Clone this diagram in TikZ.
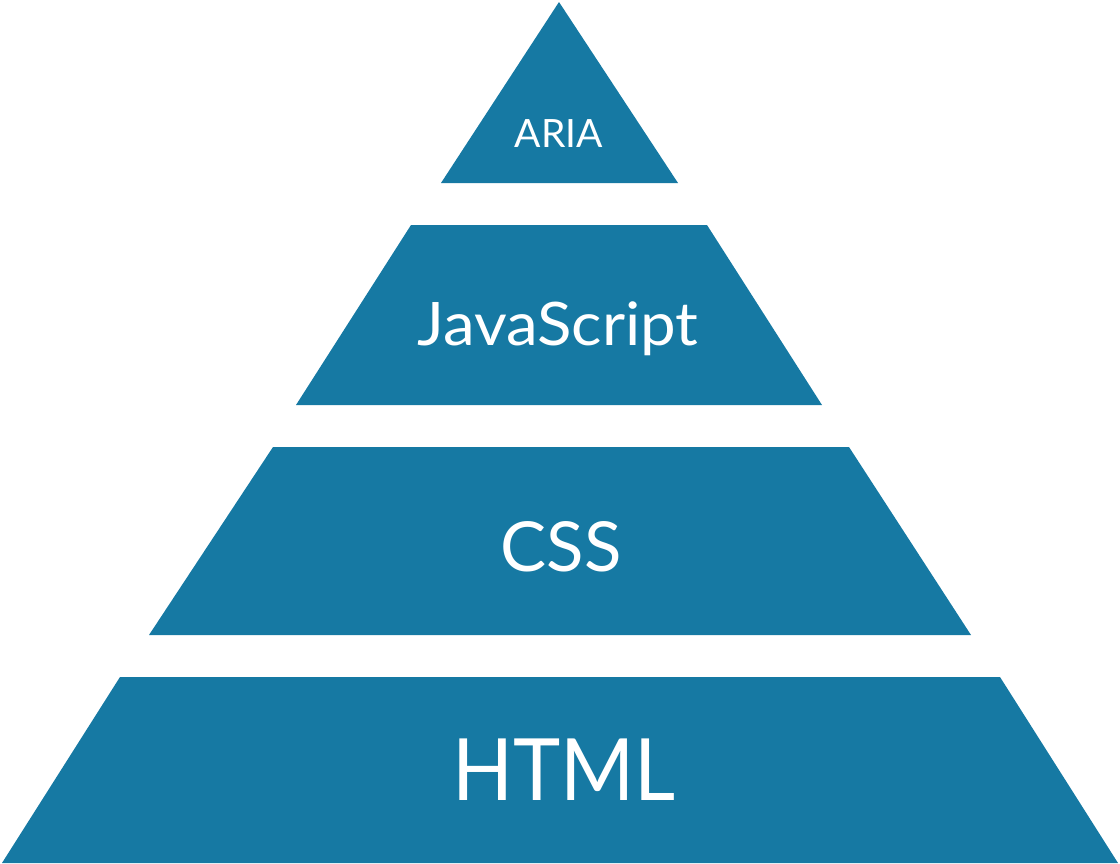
\documentclass[tikz,border=0pt]{standalone}
\usepackage{fontspec}
\setmainfont{Lato}
\definecolor{layerblue}{HTML}{1679A3}
\tikzset{layer/.style={fill=layerblue},
    lbl/.style={text=white,inner sep=0pt}}
\begin{document}
\begin{tikzpicture}[x=1pt,y=-1pt]
        \useasboundingbox (0,0) rectangle (1120,863);
        \fill[layer] (559,2) -- (678,183) -- (441,183) --cycle;
        \fill[layer] (411,225) -- (707,225) -- (822,405) -- (296,405) --cycle;
        \fill[layer] (273,447) -- (849,447) -- (971,635) -- (149,635) --cycle;
        \fill[layer] (120,677) -- (1000,677) -- (1118,863) -- (2,863) --cycle;
        \node[lbl] (aria) at (559,134) {\fontsize{39}{39}\selectfont ARIA};
        \node[lbl,xscale=1.06] (js) at (558,329) {\fontsize{60}{60}\selectfont JavaScript};
        \node[lbl] (css) at (561,547) {\fontsize{69}{69}\selectfont CSS};
        \node[lbl,xscale=0.93] (html) at (564,770) {\fontsize{86}{86}\selectfont HTML};
    \end{tikzpicture}
\end{document}
